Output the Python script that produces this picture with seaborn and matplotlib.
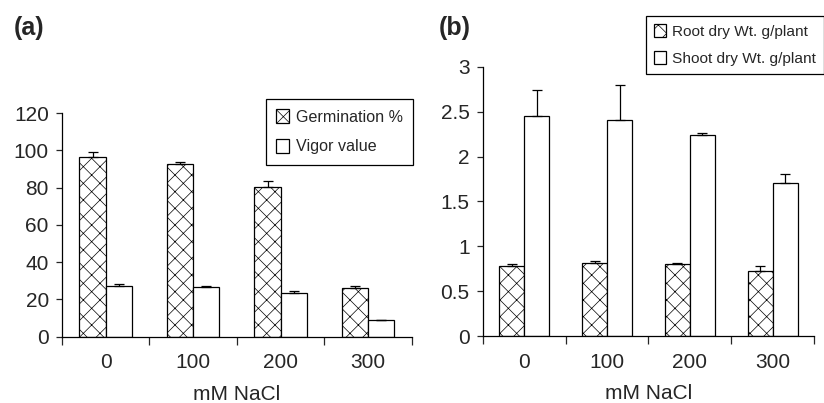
import matplotlib
matplotlib.use('Agg')
import matplotlib.pyplot as plt
import seaborn as sns
import pandas as pd
import numpy as np

# data
nacl = ['0', '100', '200', '300']

germination = [96.4, 92.6, 80.4, 26.3]
germination_err = [2.7, 0.9, 2.9, 0.7]
vigor = [27.2, 26.5, 23.6, 8.8]
vigor_err = [1.1, 0.7, 0.9, 0.2]

root_wt = [0.78, 0.82, 0.80, 0.72]
root_err = [0.02, 0.02, 0.015, 0.06]
shoot_wt = [2.45, 2.41, 2.24, 1.71]
shoot_err = [0.29, 0.39, 0.02, 0.10]

labels_a = ['Germination %', 'Vigor value']
labels_b = ['Root dry Wt. g/plant', 'Shoot dry Wt. g/plant']
yticks_a = [0, 20, 40, 60, 80, 100, 120]
yticks_b = [0, 0.5, 1, 1.5, 2, 2.5, 3]
yticklabels_b = ['0', '0.5', '1', '1.5', '2', '2.5', '3']

sns.set_style('white')
plt.rcParams['font.family'] = ['Liberation Sans', 'DejaVu Sans']
plt.rcParams['hatch.linewidth'] = 0.5


def draw_panel(ax, names, vals, errs, yticks, yticklabels, legend_anchor,
               leg_pad, leg_spacing, leg_size):
    # armar tabla larga para seaborn
    df = pd.DataFrame({
        'NaCl': nacl * 2,
        'value': vals[0] + vals[1],
        'series': [names[0]] * 4 + [names[1]] * 4,
    })
    sns.barplot(data=df, x='NaCl', y='value', hue='series', hue_order=names,
                palette=['white', 'white'], edgecolor='black', linewidth=0.9,
                width=0.6, saturation=1, errorbar=None, legend=False, ax=ax)

    for container, hatch, err in zip(ax.containers, ['xx', ''], errs):
        xs, ys = [], []
        for bar in container:
            bar.set_hatch(hatch)
            xs.append(bar.get_x() + bar.get_width() / 2)
            ys.append(bar.get_height())
        ax.errorbar(xs, ys, yerr=[np.zeros(len(err)), err], fmt='none',
                    ecolor='black', elinewidth=0.9, capsize=3.5, capthick=0.9)

    ax.set_xlim(-0.5, 3.5)
    ax.set_ylim(0, yticks[-1])
    ax.set_yticks(yticks)
    ax.set_yticklabels(yticklabels)
    ax.set_xticks(np.arange(-0.5, 4, 1), minor=True)
    ax.tick_params(axis='x', which='major', length=0, pad=12, labelsize=15)
    ax.tick_params(axis='x', which='minor', length=5.5, width=0.9,
                   direction='out', bottom=True)
    ax.tick_params(axis='y', length=4.5, width=0.9, direction='out', left=True,
                   pad=5, labelsize=15)
    ax.set_xlabel('mM NaCl', fontsize=15, labelpad=9)
    ax.set_ylabel('')

    for side in ['top', 'right']:
        ax.spines[side].set_visible(False)
    for side in ['left', 'bottom']:
        ax.spines[side].set_linewidth(0.9)
        ax.spines[side].set_color('black')

    leg = ax.legend(handles=list(ax.containers), labels=names, loc='upper left',
                    bbox_to_anchor=legend_anchor,
                    bbox_transform=ax.figure.transFigure, fontsize=leg_size,
                    frameon=True, fancybox=False, framealpha=1,
                    edgecolor='black', handlelength=0.8, handleheight=0.95,
                    handletextpad=0.4, labelspacing=leg_spacing,
                    borderpad=leg_pad, borderaxespad=0)
    leg.get_frame().set_linewidth(0.9)


fig = plt.figure(figsize=(8.24, 4.03), dpi=100)
ax_a = fig.add_axes([0.0752, 0.1645, 0.4248, 0.555])
ax_b = fig.add_axes([0.586, 0.166, 0.402, 0.668])

draw_panel(ax_a, labels_a, [germination, vigor], [germination_err, vigor_err],
           yticks_a, [str(t) for t in yticks_a], (266 / 824, 1 - 99 / 403),
           0.65, 0.87, 11.6)
draw_panel(ax_b, labels_b, [root_wt, shoot_wt], [root_err, shoot_err],
           yticks_b, yticklabels_b, (646 / 824, 1 - 16 / 403), 0.5, 0.8, 11.1)

fig.text(14 / 824, 1 - 28 / 403, '(a)', fontsize=18, fontweight='bold',
         va='center', ha='left')
fig.text(439 / 824, 1 - 28 / 403, '(b)', fontsize=18, fontweight='bold',
         va='center', ha='left')

fig.savefig('out.png', dpi=100)
